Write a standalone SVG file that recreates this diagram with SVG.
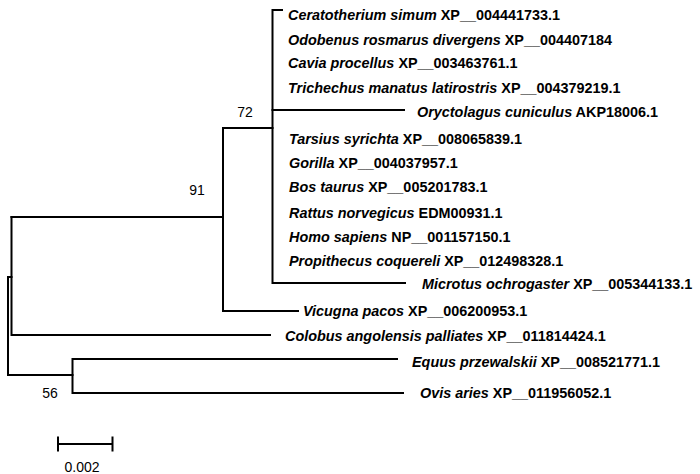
<svg xmlns="http://www.w3.org/2000/svg" width="700" height="474" viewBox="0 0 700 474">
<style>
.br{stroke:#000;stroke-width:2;fill:none;stroke-linecap:square}
.lf{font-family:"Liberation Sans",Arial,sans-serif;font-size:14.4px;font-weight:bold;fill:#000}
.sp{font-style:italic}
.bs{font-family:"Liberation Sans",Arial,sans-serif;font-size:14px;fill:#000}
</style>
<rect width="700" height="474" fill="#fff"/>
<g id="connectors">
<path class="br" d="M282,10H272.5V283H405"/>
<path class="br" d="M272.5,110H404"/>
<path class="br" d="M223,128H272.5"/>
<path class="br" d="M223,128V311H298"/>
<path class="br" d="M11.5,217H223"/>
<path class="br" d="M11.5,217V335H270"/>
<path class="br" d="M11.5,277H8V375H72.5"/>
<path class="br" d="M397,359H72.5V393H403"/>
</g>
<g id="n72"><text class="bs" x="245" y="117" text-anchor="middle">72</text></g>
<g id="n91"><text class="bs" x="197" y="195" text-anchor="middle">91</text></g>
<g id="n56"><text class="bs" x="50" y="398" text-anchor="middle">56</text></g>
<g id="leaf1"><text class="lf" x="288" y="20"><tspan class="sp">Ceratotherium simum</tspan> XP__004441733.1</text></g>
<g id="leaf2"><text class="lf" x="288" y="45"><tspan class="sp">Odobenus rosmarus divergens</tspan> XP__004407184</text></g>
<g id="leaf3"><text class="lf" x="288" y="68"><tspan class="sp">Cavia procellus</tspan> XP__003463761.1</text></g>
<g id="leaf4"><text class="lf" x="288" y="93"><tspan class="sp">Trichechus manatus latirostris</tspan> XP__004379219.1</text></g>
<g id="leaf5"><text class="lf" x="417" y="117"><tspan class="sp">Oryctolagus cuniculus</tspan> AKP18006.1</text></g>
<g id="leaf6"><text class="lf" x="289" y="144"><tspan class="sp">Tarsius syrichta</tspan> XP__008065839.1</text></g>
<g id="leaf7"><text class="lf" x="289" y="168"><tspan class="sp">Gorilla</tspan> XP__004037957.1</text></g>
<g id="leaf8"><text class="lf" x="289" y="192"><tspan class="sp">Bos taurus</tspan> XP__005201783.1</text></g>
<g id="leaf9"><text class="lf" x="289" y="218"><tspan class="sp">Rattus norvegicus</tspan> EDM00931.1</text></g>
<g id="leaf10"><text class="lf" x="289" y="242"><tspan class="sp">Homo sapiens</tspan> NP__001157150.1</text></g>
<g id="leaf11"><text class="lf" x="289" y="266"><tspan class="sp">Propithecus coquereli</tspan> XP__012498328.1</text></g>
<g id="leaf12"><text class="lf" x="422" y="289"><tspan class="sp">Microtus ochrogaster</tspan> XP__005344133.1</text></g>
<g id="leaf13"><text class="lf" x="303" y="316"><tspan class="sp">Vicugna pacos</tspan> XP__006200953.1</text></g>
<g id="leaf14"><text class="lf" x="285" y="341"><tspan class="sp">Colobus angolensis palliates</tspan> XP__011814424.1</text></g>
<g id="leaf15"><text class="lf" x="412" y="367"><tspan class="sp">Equus przewalskii</tspan> XP__008521771.1</text></g>
<g id="leaf16"><text class="lf" x="420" y="398"><tspan class="sp">Ovis aries</tspan> XP__011956052.1</text></g>
<g id="scale">
<path class="br" d="M58,444H112.5M58,437.5V450.5M112.5,437.5V450.5"/>
<text class="bs" x="82" y="472" text-anchor="middle">0.002</text>
</g>
</svg>
